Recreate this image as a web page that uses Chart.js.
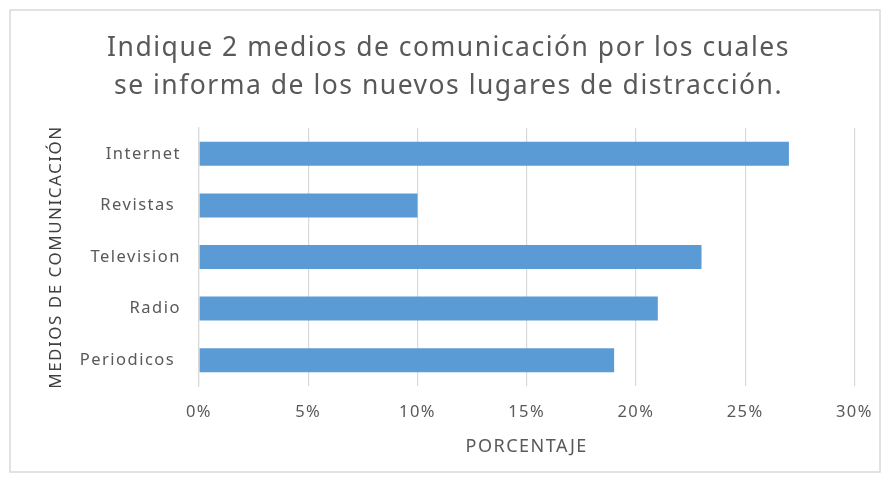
<!DOCTYPE html>
<html>
<head>
<meta charset="utf-8">
<script src="https://cdn.jsdelivr.net/npm/chart.js@4.4.1/dist/chart.umd.min.js"></script>
<style>
html,body{margin:0;padding:0;background:#fff;}
#wrap{position:absolute;left:0;top:0;width:889px;height:481px;}
</style>
</head>
<body>
<div id="wrap"><canvas id="c" width="889" height="481"></canvas></div>
<script>
const categories = ["Internet", "Revistas ", "Television", "Radio", "Periodicos "];
const values = [27, 10, 23, 21, 19];
const titleLines = ["Indique 2 medios de comunicación por los cuales", "se informa de los nuevos lugares de distracción."];
const xTitle = "PORCENTAJE";
const yTitle = "MEDIOS DE COMUNICACIÓN";
const xMax = 30, xStep = 5;

const spacing = {
  id: 'spacing',
  beforeLayout(chart) { chart.ctx.letterSpacing = '1.5px'; },
  beforeDraw(chart) { chart.ctx.letterSpacing = '1.5px'; }
};

const frame = {
  id: 'frame',
  beforeDraw(chart) {
    const ctx = chart.ctx;
    ctx.save();
    ctx.fillStyle = '#fff';
    ctx.fillRect(0, 0, chart.width, chart.height);
    ctx.strokeStyle = '#d9d9d9';
    ctx.lineWidth = 1.5;
    ctx.strokeRect(10, 10, 870, 462);
    ctx.restore();
  }
};

new Chart(document.getElementById('c'), {
  type: 'bar',
  data: {
    labels: categories,
    datasets: [{
      data: values,
      backgroundColor: '#5b9bd5',
      borderWidth: 0,
      categoryPercentage: 0.465,
      barPercentage: 1.0
    }]
  },
  plugins: [spacing, frame],
  options: {
    indexAxis: 'y',
    responsive: false,
    animation: false,
    layout: { padding: { left: 40, right: 32, top: 19, bottom: 23 } },
    plugins: {
      legend: { display: false },
      tooltip: { enabled: false },
      title: {
        display: true,
        text: titleLines,
        color: '#595959',
        font: { family: 'Noto Sans', size: 26.5, weight: 'normal', lineHeight: '38px' },
        padding: { top: 10, bottom: 23 }
      }
    },
    scales: {
      x: {
        min: 0, max: xMax,
        ticks: {
          stepSize: xStep,
          color: '#595959',
          font: { family: 'Noto Sans', size: 16.5 },
          padding: 16,
          callback: v => v + '%'
        },
        grid: { color: '#d9d9d9', lineWidth: 1.2, drawTicks: false },
        border: { display: false },
        title: {
          display: true, text: xTitle, color: '#595959',
          font: { family: 'Noto Sans', size: 18 },
          padding: { top: 10, bottom: 0 }
        },
        afterFit(scale) { scale.height = 72; }
      },
      y: {
        ticks: {
          color: '#595959',
          font: { family: 'Noto Sans', size: 16.5 },
          padding: 18
        },
        grid: { display: false, drawTicks: false },
        border: { display: true, color: '#d9d9d9', width: 1.2 },
        title: {
          display: true, text: yTitle, color: '#404040',
          font: { family: 'Noto Sans', size: 17, weight: 'normal' },
          padding: { top: 6, bottom: 0 }
        },
        afterFit(scale) { scale.width = 159; }
      }
    }
  }
});
</script>
</body>
</html>
